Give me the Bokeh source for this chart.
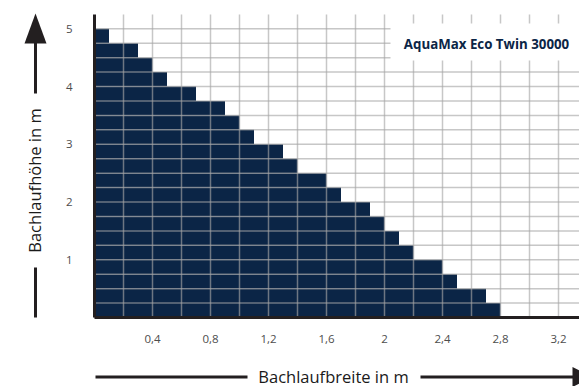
import math
from bokeh.plotting import figure
from bokeh.models import (FixedTicker, CustomJSTickFormatter, BoxAnnotation, Label,
                          PolyAnnotation, Range1d, ColumnDataSource)
from bokeh.embed import file_html
from bokeh.resources import INLINE

# ---- data ----
hoehe_unten = [0.0, 0.25, 0.5, 0.75, 1.0, 1.25, 1.5, 1.75, 2.0, 2.25,
               2.5, 2.75, 3.0, 3.25, 3.5, 3.75, 4.0, 4.25, 4.5, 4.75]
hoehe_oben = [0.25, 0.5, 0.75, 1.0, 1.25, 1.5, 1.75, 2.0, 2.25, 2.5,
              2.75, 3.0, 3.25, 3.5, 3.75, 4.0, 4.25, 4.5, 4.75, 5.0]
breite = [2.8, 2.7, 2.5, 2.4, 2.2, 2.1, 2.0, 1.9, 1.7, 1.6,
          1.4, 1.3, 1.1, 1.0, 0.9, 0.7, 0.5, 0.4, 0.3, 0.1]

x_ticks = [0.4, 0.8, 1.2, 1.6, 2.0, 2.4, 2.8, 3.2]
x_tick_labels = ["0,4", "0,8", "1,2", "1,6", "2", "2,4", "2,8", "3,2"]
y_ticks = [1, 2, 3, 4, 5]
y_tick_labels = ["1", "2", "3", "4", "5"]

x_grid = [0.2, 0.4, 0.6, 0.8, 1.0, 1.2, 1.4, 1.6, 1.8, 2.0, 2.2, 2.4, 2.6, 2.8, 3.0, 3.2]
y_grid = [0.25, 0.5, 0.75, 1.0, 1.25, 1.5, 1.75, 2.0, 2.25, 2.5, 2.75, 3.0,
          3.25, 3.5, 3.75, 4.0, 4.25, 4.5, 4.75, 5.0]

titel = "AquaMax Eco Twin 30000"
x_label = "Bachlaufbreite in m"
y_label = "Bachlaufhöhe in m"

NAVY = "#0b2546"
DARK = "#231f20"

# ---- layout: frame covers the whole canvas, axes are fixed at 0 ----
W, H = 579, 386
X0_PX, Y0_PX = 94, 317          # pixel position of the origin
SX, SY = 145.0, 57.75           # pixels per unit

def px2x(px):
    return (px - X0_PX) / SX

def py2y(py):
    return (Y0_PX - py) / SY

Y_TOP = py2y(14)
X_RIGHT = px2x(W)

p = figure(width=W, height=H, output_backend="svg", toolbar_location=None,
           x_range=Range1d(px2x(0), px2x(W)), y_range=Range1d(py2y(H), py2y(0)),
           min_border=0, outline_line_color=None)
p.background_fill_color = "white"
p.border_fill_color = "white"
p.xgrid.visible = False
p.ygrid.visible = False

src = ColumnDataSource(dict(left=[0.0] * len(breite), right=breite,
                            bottom=hoehe_unten, top=hoehe_oben))
p.quad(left="left", right="right", bottom="bottom", top="top", source=src,
       fill_color=NAVY, line_color=None)

# grid lines drawn over the bars
GRID = dict(line_color="#a7a7a7", line_alpha=0.63, line_width=1.5)
p.segment(x0=x_grid, y0=[0] * len(x_grid), x1=x_grid, y1=[Y_TOP] * len(x_grid), **GRID)
p.segment(x0=[0] * len(y_grid), y0=y_grid, x1=[X_RIGHT] * len(y_grid), y1=y_grid, **GRID)

# axes
def fmt(tv, tl):
    return CustomJSTickFormatter(args=dict(tv=tv, tl=tl), code="""
const i = tv.findIndex(t => Math.abs(t - tick) < 1e-6);
return i < 0 ? "" : tl[i];
""")

p.xaxis.ticker = FixedTicker(ticks=x_ticks)
p.xaxis.formatter = fmt(x_ticks, x_tick_labels)
p.yaxis.ticker = FixedTicker(ticks=y_ticks)
p.yaxis.formatter = fmt(y_ticks, y_tick_labels)
p.xaxis.fixed_location = 0
p.yaxis.fixed_location = 0
p.xaxis.bounds = (0, X_RIGHT)
p.yaxis.bounds = (0, Y_TOP)
for ax in (p.xaxis, p.yaxis):
    ax.axis_line_width = 3
    ax.axis_line_color = DARK
    ax.major_tick_line_color = None
    ax.minor_tick_line_color = None
    ax.major_label_text_font = "Open Sans"
    ax.major_label_text_font_size = "11.5px"
    ax.major_label_text_color = "#4d4d4d"
p.xaxis.major_label_standoff = 11
p.yaxis.major_label_standoff = 16

# title box
p.add_layout(BoxAnnotation(left=px2x(390), right=X_RIGHT, bottom=py2y(60), top=py2y(23),
                           fill_color="white", fill_alpha=1.0, line_color=None))
p.add_layout(Label(x=px2x(486), y=py2y(43), text=titel, text_font="Open Sans",
                   text_font_style="bold", text_font_size="13.3px", text_color=NAVY,
                   text_align="center", text_baseline="middle"))

# axis labels with arrows
XL_Y = 375.5
p.add_layout(Label(x=px2x(333), y=py2y(XL_Y), text=x_label, text_font="Open Sans",
                   text_font_size="16.5px", text_color="#1a1a1a",
                   text_align="center", text_baseline="middle"))
p.add_layout(Label(x=px2x(34), y=py2y(180), text=y_label, text_font="Open Sans",
                   text_font_size="16.5px", text_color="#1a1a1a", angle=math.pi / 2,
                   text_align="center", text_baseline="middle"))

LINE = dict(line_width=3, line_color=DARK)
p.segment(x0=[px2x(95), px2x(420)], y0=[py2y(XL_Y + 1)] * 2,
          x1=[px2x(247), px2x(574)], y1=[py2y(XL_Y + 1)] * 2, **LINE)
p.segment(x0=[px2x(35)] * 2, y0=[py2y(42), py2y(267)],
          x1=[px2x(35)] * 2, y1=[py2y(93), py2y(317)], **LINE)
p.add_layout(PolyAnnotation(xs=[px2x(572), px2x(572), px2x(592)],
                            ys=[py2y(XL_Y + 1 - 10), py2y(XL_Y + 1 + 10), py2y(XL_Y + 1)],
                            fill_color=DARK, fill_alpha=1.0, line_color=None))
p.add_layout(PolyAnnotation(xs=[px2x(35), px2x(24), px2x(46)],
                            ys=[py2y(13), py2y(43), py2y(43)],
                            fill_color=DARK, fill_alpha=1.0, line_color=None))

open("out.html", "w").write(file_html(p, INLINE))
